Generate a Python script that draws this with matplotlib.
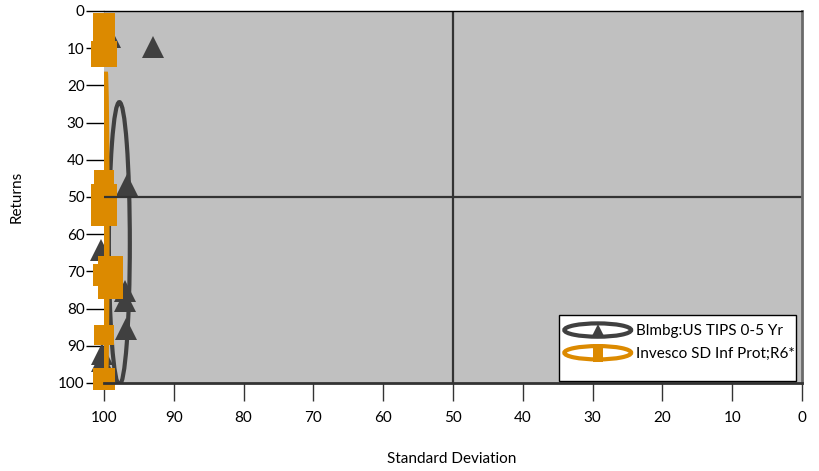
import matplotlib
matplotlib.use("Agg")
import matplotlib.pyplot as plt
from matplotlib.patches import Ellipse, Rectangle
from matplotlib.lines import Line2D
from matplotlib.path import Path
from matplotlib.legend_handler import HandlerBase

plt.rcParams['font.family'] = ['Lato', 'DejaVu Sans']

# ---- data -------------------------------------------------------------
series_names = ["Blmbg:US TIPS 0-5 Yr", "Invesco SD Inf Prot;R6*"]

# benchmark points (standard deviation, returns)
bench_sd = [99.1, 93.0, 96.7, 100.5, 97.0, 97.0, 96.9, 100.3, 100.3]
bench_ret = [7.0, 9.7, 46.8, 64.2, 75.3, 78.0, 85.5, 92.3, 94.0]

# fund points (standard deviation, returns)
fund_sd = [99.93, 99.93, 99.93, 99.95, 99.93, 99.93, 100.07, 99.07, 99.07, 100.0, 100.0]
fund_ret = [3.6, 5.0, 11.6, 45.4, 50.0, 54.4, 71.0, 69.2, 73.8, 87.2, 98.9]

# spread ellipses: centre (sd, ret) and full extent (sd, ret)
bench_ellipse_center = (97.8, 62.5)
bench_ellipse_extent = (3.0, 76.0)
fund_ellipse_center = (99.8, 58.4)
fund_ellipse_extent = (0.5, 84.0)

x_ticks = [100, 90, 80, 70, 60, 50, 40, 30, 20, 10, 0]
y_ticks = [0, 10, 20, 30, 40, 50, 60, 70, 80, 90, 100]

# ---- styles -----------------------------------------------------------
GREY = '#404040'
ORANGE = '#DC8A00'
BG = '#C0C0C0'
fund_marker_px = [23, 23, 27, 20, 27, 27, 23, 25, 25, 20, 22]

W, H = 820, 471
fig = plt.figure(figsize=(W / 100, H / 100), dpi=100)
ax = fig.add_axes([104 / W, 1 - 383 / H, 698 / W, 372 / H])
ax.set_facecolor(BG)
ax.set_xlim(100, 0)
ax.set_ylim(100, 0)

# spread ellipses
ax.add_patch(Ellipse(bench_ellipse_center, bench_ellipse_extent[0], bench_ellipse_extent[1],
                     fill=False, edgecolor=GREY, lw=3.0, zorder=2))
ax.add_patch(Ellipse(fund_ellipse_center, fund_ellipse_extent[0], fund_ellipse_extent[1],
                     fill=False, edgecolor=ORANGE, lw=3.5, zorder=4))

# points
ax.plot(bench_sd, bench_ret, linestyle='none', marker='^', ms=16,
        color=GREY, markeredgewidth=0, zorder=3, clip_on=False)
for sd, ret, px in zip(fund_sd, fund_ret, fund_marker_px):
    ax.plot([sd], [ret], linestyle='none', marker='s', ms=px * 0.72,
            color=ORANGE, markeredgewidth=0, zorder=5, clip_on=False)

# quadrant lines
ax.axvline(50, color='#333333', lw=1.6, zorder=6)
ax.axhline(50, color='#333333', lw=1.6, zorder=6)

# axes frame
ax.spines['left'].set_visible(False)
ax.spines['top'].set_color('black')
ax.spines['top'].set_linewidth(1.0)
ax.spines['right'].set_color('#6a6a6a')
ax.spines['right'].set_linewidth(2.0)
ax.spines['bottom'].set_color('#333333')
ax.spines['bottom'].set_linewidth(2.0)
for sp in ax.spines.values():
    sp.set_zorder(7)

ax.set_xticks(x_ticks)
ax.set_yticks(y_ticks)
ax.set_xticklabels([str(v) for v in x_ticks])
ax.set_yticklabels([str(v) for v in y_ticks])
ax.tick_params(axis='x', direction='out', length=13, width=1, color='#333333',
               pad=7, labelsize=11, labelcolor='black')
ax.tick_params(axis='y', direction='out', length=13, width=1, color='black',
               pad=1, labelsize=11, labelcolor='black')

fig.text(452 / W, 1 - 459 / H, "Standard Deviation", ha='center', va='center', fontsize=11)
fig.text(17 / W, 1 - 197 / H, "Returns", ha='center', va='center', rotation=90, fontsize=11)


# legend with ring-shaped keys
class RingHandler(HandlerBase):
    def __init__(self, color, marker, ms):
        super().__init__()
        self.color = color
        self.marker = marker
        self.ms = ms

    def create_artists(self, legend, orig_handle, xdescent, ydescent,
                       width, height, fontsize, trans):
        cx = width / 2 - xdescent
        cy = height / 2 - ydescent
        ring = Ellipse((cx, cy), width - 3, height - 2, fill=False,
                       edgecolor=self.color, lw=3.0, transform=trans)
        mark = Line2D([cx], [cy], linestyle='none', marker=self.marker,
                      ms=self.ms, color=self.color, markeredgewidth=0,
                      transform=trans)
        return [ring, mark]


bar_marker = Path([(-0.3, -0.5), (0.3, -0.5), (0.3, 0.5), (-0.3, 0.5), (-0.3, -0.5)],
                  [Path.MOVETO, Path.LINETO, Path.LINETO, Path.LINETO, Path.CLOSEPOLY])

# legend box
frame = Rectangle((559 / W, 1 - 381 / H), 237 / W, 66 / H, transform=fig.transFigure,
                  facecolor='white', edgecolor='black', lw=1.0, zorder=9, clip_on=False)
ax.add_patch(frame)

h_bench = Line2D([], [], color=GREY)
h_fund = Line2D([], [], color=ORANGE)
fs = 11
px_per_fs = fs * 100 / 72
leg = ax.legend([h_bench, h_fund], series_names,
                handler_map={h_bench: RingHandler(GREY, '^', 9),
                             h_fund: RingHandler(ORANGE, bar_marker, 13)},
                loc='upper right', bbox_to_anchor=(795 / W, 1 - 322 / H),
                bbox_transform=fig.transFigure, borderaxespad=0, borderpad=0,
                frameon=False, fontsize=fs,
                handlelength=71 / px_per_fs, handleheight=19 / px_per_fs,
                handletextpad=3 / px_per_fs, labelspacing=6.5 / px_per_fs)
leg.set_zorder(10)

fig.savefig("out.png", dpi=100)
